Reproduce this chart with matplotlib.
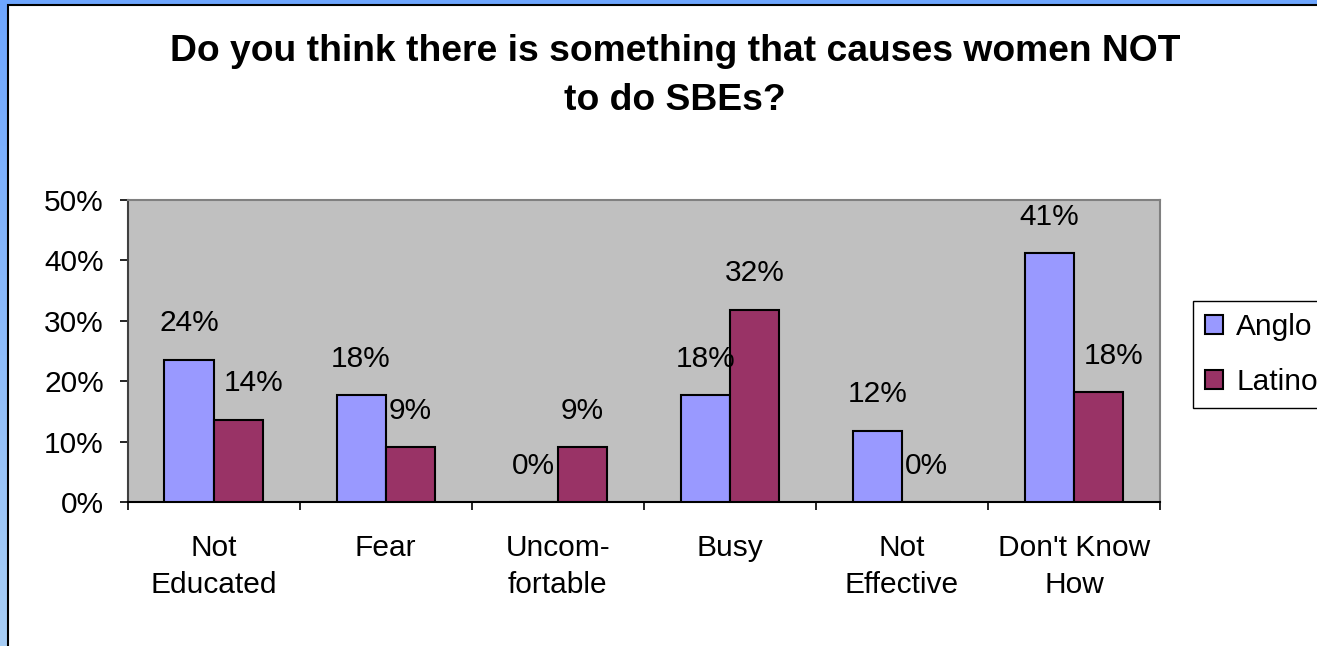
import numpy as np
import matplotlib
matplotlib.use("Agg")
import matplotlib.pyplot as plt
from matplotlib.colors import LinearSegmentedColormap
from matplotlib.patches import Rectangle
from matplotlib.ticker import FuncFormatter, FixedLocator

# survey answers, percent of respondents
categories = ["Not\nEducated", "Fear", "Uncom-\nfortable", "Busy", "Not\nEffective", "Don't Know\nHow"]
anglo = [23.53, 17.65, 0.0, 17.65, 11.76, 41.18]
latino = [13.64, 9.09, 9.09, 31.82, 0.0, 18.18]
series_names = ["Anglo", "Latino"]
y_ticks = [0, 10, 20, 30, 40, 50]

plt.rcParams['font.family'] = ['Liberation Sans', 'DejaVu Sans']

W, H = 1317, 646
fig = plt.figure(figsize=(W / 100, H / 100), dpi=100)

# blue frame behind the white slide area
bg = fig.add_axes([0, 0, 1, 1], zorder=-5)
grad = np.linspace(0, 1, 256).reshape(-1, 1)
cmap = LinearSegmentedColormap.from_list("frame", ["#6ea6ff", "#a8cef5"])
bg.imshow(grad, aspect='auto', cmap=cmap, extent=[0, 1, 0, 1])
bg.set_xlim(0, 1)
bg.set_ylim(0, 1)
bg.add_patch(Rectangle((8 / W, -0.1), 1.2, 1 - 5 / H + 0.1, facecolor='white',
                       edgecolor='black', lw=1.5))
bg.axis('off')

# plot area
left, right, top, bottom = 127.5, 1160, 200, 502
ax = fig.add_axes([left / W, 1 - bottom / H, (right - left) / W, (bottom - top) / H])
ax.set_facecolor('#c0c0c0')

fs = 21.5
x = np.arange(len(categories))
w = 0.285
b1 = ax.bar(x - w / 2, anglo, w, color='#9999ff', edgecolor='black', linewidth=1.5,
            label=series_names[0], zorder=3)
b2 = ax.bar(x + w / 2, latino, w, color='#993366', edgecolor='black', linewidth=1.5,
            label=series_names[1], zorder=3)

ax.set_xlim(-0.5, len(categories) - 0.5)
ax.set_ylim(0, 50)

# data labels above each bar
labels = {}
for name, bars, vals in [("a", b1, anglo), ("l", b2, latino)]:
    labels[name] = []
    for rect, v in zip(bars, vals):
        t = ax.annotate(f"{v:.0f}%", (rect.get_x() + rect.get_width() / 2, v),
                        xytext=(0, 20.5), textcoords='offset points',
                        ha='center', va='baseline', fontsize=fs, zorder=5)
        labels[name].append(t)

# push Latino labels off a taller Anglo bar, like Excel does
fig.canvas.draw()
r = fig.canvas.get_renderer()
for t, rect in zip(labels["l"], b1):
    tb = t.get_window_extent(r)
    bb = rect.get_window_extent(r)
    if tb.x0 < bb.x1 and tb.y0 < bb.y1:
        shift = (bb.x1 + 10 - tb.x0) * 72 / fig.dpi
        t.set_position((shift, 20.5))

ax.set_yticks(y_ticks)
ax.yaxis.set_major_formatter(FuncFormatter(lambda v, p: f"{v:.0f}%"))
ax.tick_params(axis='y', labelsize=fs, length=6, width=1.2, pad=11, direction='out')

ax.set_xticks(x)
ax.set_xticklabels(categories, fontsize=fs, linespacing=1.4)
ax.tick_params(axis='x', which='major', length=0, pad=23)
ax.xaxis.set_minor_locator(FixedLocator(np.arange(-0.5, len(categories), 1.0)))
ax.tick_params(axis='x', which='minor', length=6, width=1.2, direction='out')

for s in ['top', 'right']:
    ax.spines[s].set_color('#808080')
    ax.spines[s].set_linewidth(1.5)
ax.spines['left'].set_color('#404040')
ax.spines['left'].set_linewidth(1.5)
ax.spines['bottom'].set_color('black')
ax.spines['bottom'].set_linewidth(1.5)

fig.text(675 / W, 1 - 76 / H, "Do you think there is something that causes women NOT\nto do SBEs?",
         ha='center', va='center', fontsize=26.8, fontweight='bold', linespacing=1.5)

leg = fig.legend(handles=[b1, b2], loc='upper left',
                 bbox_to_anchor=(1193 / W, 1 - 301 / H), bbox_transform=fig.transFigure,
                 fontsize=fs, handlelength=0.6, handleheight=0.6, handletextpad=0.45,
                 labelspacing=0.9, borderpad=0.4, borderaxespad=0, fancybox=False,
                 framealpha=1, edgecolor='black')
leg.get_frame().set_linewidth(1.0)

fig.savefig("out.png", dpi=100)
